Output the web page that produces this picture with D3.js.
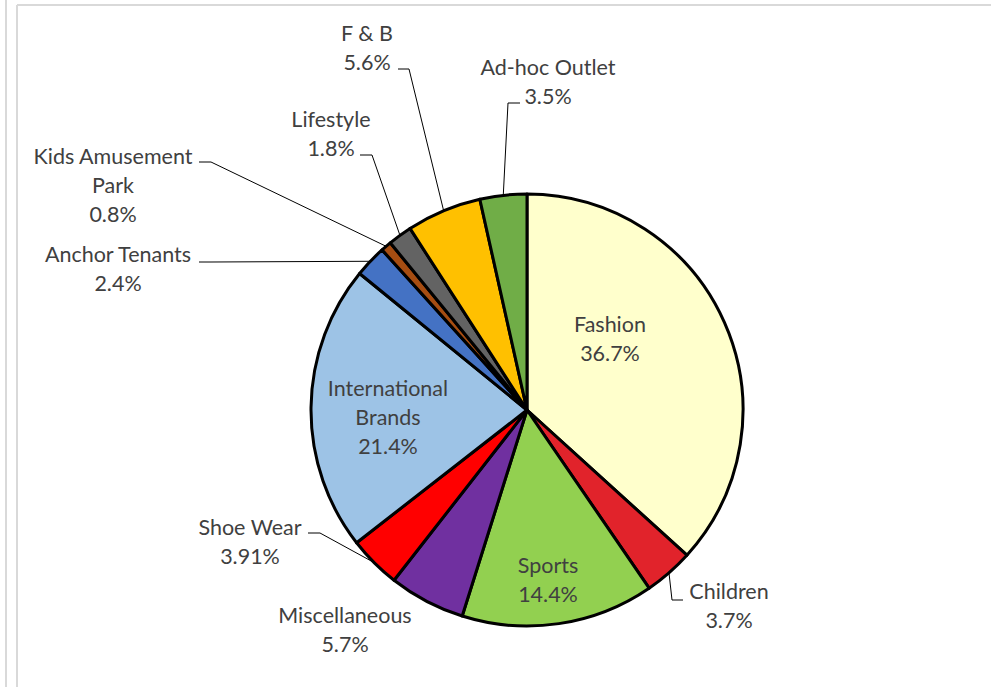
<!DOCTYPE html>
<html>
<head>
<meta charset="utf-8">
<script src="https://cdn.jsdelivr.net/npm/d3@7"></script>
<style>
  body { margin: 0; background: #fff; }
  text { font-family: Lato, "Noto Sans", sans-serif; fill: #404040; }
</style>
</head>
<body>
<div id="chart"></div>
<script>
// data
const categories = ["Fashion", "Children", "Sports", "Miscellaneous", "Shoe Wear",
  "International Brands", "Anchor Tenants", "Kids Amusement Park", "Lifestyle", "F & B", "Ad-hoc Outlet"];
const shares = [36.7, 3.7, 14.4, 5.7, 3.91, 21.4, 2.4, 0.8, 1.8, 5.6, 3.5];
const shareLabels = ["36.7%", "3.7%", "14.4%", "5.7%", "3.91%", "21.4%", "2.4%", "0.8%", "1.8%", "5.6%", "3.5%"];
const colors = ["#FFFFCC", "#E1232B", "#92D050", "#7030A0", "#FF0000",
  "#9DC3E6", "#4472C4", "#A64D12", "#636363", "#FFC000", "#70AD47"];

// label layout (manual, like the original): text lines, centre x, first line y,
// and the short horizontal stub of the leader line (null = inside label)
const labelLayout = [
  {lines: ["Fashion"], x: 610, y: 324, stub: null},
  {lines: ["Children"], x: 729, y: 591, stub: [683, 672, 600]},
  {lines: ["Sports"], x: 548, y: 565, stub: null},
  {lines: ["Miscellaneous"], x: 345, y: 615, stub: null},
  {lines: ["Shoe Wear"], x: 250, y: 527, stub: [308, 320, 533]},
  {lines: ["International", "Brands"], x: 388, y: 388, stub: null},
  {lines: ["Anchor Tenants"], x: 118, y: 254, stub: [199, 211, 262]},
  {lines: ["Kids Amusement", "Park"], x: 113, y: 156, stub: [199, 211, 162]},
  {lines: ["Lifestyle"], x: 331, y: 119, stub: [360, 372, 155]},
  {lines: ["F & B"], x: 367, y: 33, stub: [398, 409, 69]},
  {lines: ["Ad-hoc Outlet"], x: 548, y: 67, stub: [520, 508, 103]}
];

const W = 991, H = 687;
const cx = 527, cy = 410, radius = 216;
const lineH = 29.3;

const svg = d3.select("#chart").append("svg")
  .attr("width", W).attr("height", H);

// frame lines
const frame = svg.append("g").attr("stroke", "#d9d9d9").attr("stroke-width", 2);
frame.append("line").attr("x1", 6).attr("x2", 6).attr("y1", 0).attr("y2", H);
frame.append("line").attr("x1", 17).attr("x2", 17).attr("y1", 5).attr("y2", H);
frame.append("line").attr("x1", 17).attr("x2", W).attr("y1", 5).attr("y2", 5);

const pie = d3.pie().sort(null).value(d => d)(shares);
const arc = d3.arc().innerRadius(0).outerRadius(radius);
const edge = d3.arc().innerRadius(radius).outerRadius(radius);

const g = svg.append("g").attr("transform", `translate(${cx},${cy})`);

g.selectAll("path.slice")
  .data(pie)
  .join("path")
    .attr("class", "slice")
    .attr("d", arc)
    .attr("fill", (d, i) => colors[i])
    .attr("stroke", "#000")
    .attr("stroke-width", 3)
    .attr("stroke-linejoin", "round");

// leader lines
pie.forEach((d, i) => {
  const L = labelLayout[i];
  if (!L.stub) return;
  const p = edge.centroid(d);
  const [x0, x1, y] = L.stub;
  svg.append("polyline")
    .attr("points", `${x0},${y} ${x1},${y} ${cx + p[0]},${cy + p[1]}`)
    .attr("fill", "none")
    .attr("stroke", "#000")
    .attr("stroke-width", 1);
});

// labels
labelLayout.forEach((L, i) => {
  const t = svg.append("text")
    .attr("text-anchor", "middle")
    .attr("font-size", 21.5);
  L.lines.concat([shareLabels[i]]).forEach((s, k) => {
    t.append("tspan")
      .attr("x", L.x)
      .attr("y", L.y + k * lineH)
      .attr("dy", "0.36em")
      .text(s);
  });
});
</script>
</body>
</html>
